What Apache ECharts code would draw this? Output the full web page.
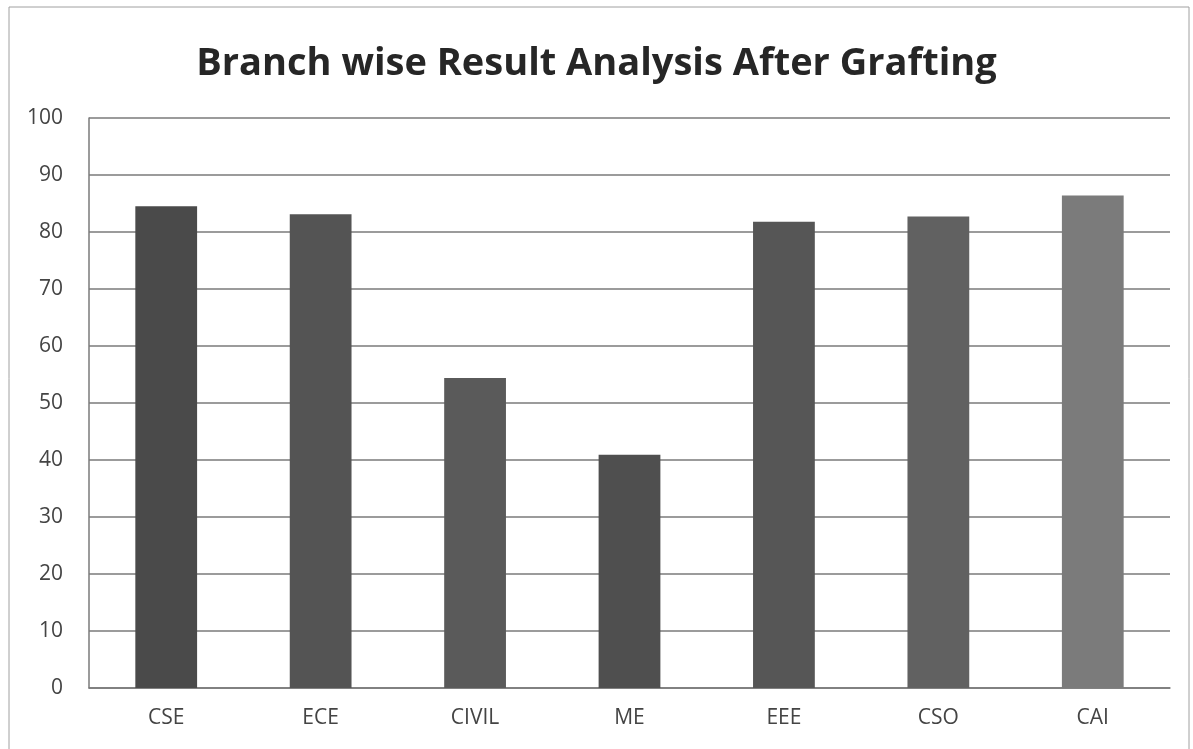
<!DOCTYPE html>
<html>
<head>
<meta charset="utf-8">
<script src="https://cdn.jsdelivr.net/npm/echarts@6/dist/echarts.min.js"></script>
<style>
  html, body { margin: 0; padding: 0; background: #fff; }
  #main { width: 1193px; height: 749px; }
</style>
</head>
<body>
<div id="main"></div>
<script>
// branches and pass percentage after grafting
const branches = ['CSE', 'ECE', 'CIVIL', 'ME', 'EEE', 'CSO', 'CAI'];
const results = [84.5, 83.1, 54.4, 40.9, 81.8, 82.7, 86.4];
const barColors = ['#4a4a4a', '#545454', '#5a5a5a', '#4f4f4f', '#565656', '#616161', '#7b7b7b'];

const chart = echarts.init(document.getElementById('main'));

chart.setOption({
  backgroundColor: '#ffffff',
  animation: false,
  title: {
    text: 'Branch wise Result Analysis After Grafting',
    left: 'center',
    top: 40,
    textStyle: {
      fontFamily: 'Open Sans',
      fontWeight: 'bold',
      fontSize: 38,
      color: '#262626'
    }
  },
  // outer frame of the chart
  graphic: [{
    type: 'rect',
    shape: { x: 9, y: 7, width: 1180, height: 760 },
    style: { fill: 'none', stroke: '#a0a0a0', lineWidth: 1 }
  }],
  grid: { left: 89, right: 23, top: 118, bottom: 61 },
  xAxis: {
    type: 'category',
    data: branches,
    axisLine: { lineStyle: { color: '#7a7a7a', width: 1.5 } },
    axisTick: { show: false },
    axisLabel: {
      margin: 20,
      fontFamily: 'Open Sans',
      fontSize: 21,
      color: '#444'
    }
  },
  yAxis: {
    type: 'value',
    min: 0,
    max: 100,
    interval: 10,
    axisLine: { show: true, lineStyle: { color: '#7a7a7a', width: 1.5 } },
    axisTick: { show: false },
    axisLabel: {
      margin: 26,
      fontFamily: 'Open Sans',
      fontSize: 21,
      color: '#444'
    },
    splitLine: { lineStyle: { color: '#7a7a7a', width: 1.5 } }
  },
  series: [{
    type: 'bar',
    data: results.map((v, i) => ({ value: v, itemStyle: { color: barColors[i] } })),
    barWidth: '40%'
  }]
});
</script>
</body>
</html>
